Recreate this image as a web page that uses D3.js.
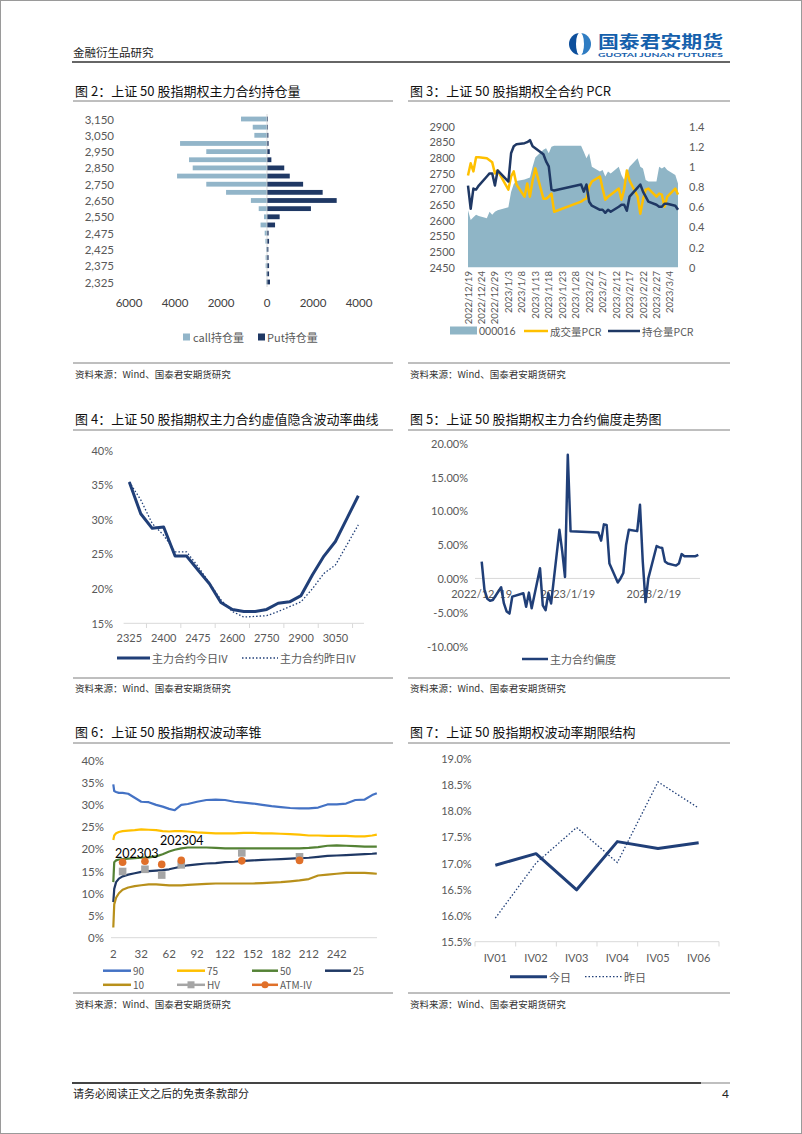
<!DOCTYPE html>
<html><head><meta charset="utf-8">
<script src="https://cdn.jsdelivr.net/npm/d3@7"></script>
<style>
body{margin:0;background:#fff;}
svg{display:block;}
</style></head><body>
<svg id="page" width="802" height="1134"></svg>
<script>
// ---------------- DATA ----------------
// Chart 2: open interest by strike
const oiStrikes = [3150,3100,3050,3000,2950,2900,2850,2800,2750,2700,2650,2600,2550,2500,2475,2450,2425,2400,2375,2350,2325];
const callOI = [1130,620,550,3780,2640,3390,3230,3910,2640,1780,700,360,130,280,100,70,40,60,60,40,40];
const putOI  = [40,40,60,70,120,190,750,990,1570,2420,3030,1910,550,350,70,90,60,70,90,90,130];
const oiTicks = [-6000,-4000,-2000,0,2000,4000];

// Chart 3 / Chart 5: trading days
const tradeDates = ["2022-12-19","2022-12-20","2022-12-21","2022-12-22","2022-12-23","2022-12-26","2022-12-27","2022-12-28","2022-12-29","2022-12-30",
 "2023-01-03","2023-01-04","2023-01-05","2023-01-06","2023-01-09","2023-01-10","2023-01-11","2023-01-12","2023-01-13","2023-01-16","2023-01-17","2023-01-18","2023-01-19","2023-01-20",
 "2023-01-30","2023-01-31","2023-02-01","2023-02-02","2023-02-03","2023-02-06","2023-02-07","2023-02-08","2023-02-09","2023-02-10","2023-02-13","2023-02-14","2023-02-15","2023-02-16","2023-02-17",
 "2023-02-20","2023-02-21","2023-02-22","2023-02-23","2023-02-24","2023-02-27","2023-02-28","2023-03-01","2023-03-02","2023-03-03","2023-03-06","2023-03-07"];
const index000016 = [2632,2601,2609,2617,2613,2606,2627,2617,2627,2632,
 2641,2690,2715,2725,2730,2733,2736,2770,2800,2824,2829,2813,2834,2837,
 2837,2818,2797,2813,2770,2755,2760,2739,2755,2749,2770,2744,2728,2749,2770,
 2797,2770,2765,2728,2723,2723,2770,2765,2770,2760,2744,2717];
const volumePCR = [0.91,1.03,0.95,1.09,1.09,1.08,1.06,1.04,0.93,0.96,
 0.77,0.90,0.95,0.82,0.70,0.83,0.70,0.86,0.98,0.68,0.68,0.70,0.73,0.55,
 0.65,0.67,0.68,0.80,0.85,0.90,0.78,0.67,0.70,0.72,0.78,0.67,0.77,0.96,0.86,
 0.70,0.53,0.67,0.77,0.78,0.70,0.73,0.72,0.60,0.70,0.78,0.72];
const oiPCR = [0.81,0.58,0.78,0.77,0.81,0.90,0.93,0.93,0.81,0.96,
 0.85,1.13,1.20,1.22,1.23,1.24,1.26,1.20,1.18,1.12,1.05,1.00,0.77,0.76,
 0.82,0.75,0.82,0.65,0.61,0.57,0.57,0.54,0.57,0.55,0.60,0.62,0.62,0.56,0.70,
 0.79,0.82,0.75,0.70,0.65,0.62,0.60,0.60,0.63,0.63,0.61,0.57];
const pcrTickDates = ["2022-12-19","2022-12-24","2022-12-29","2023-01-03","2023-01-08","2023-01-13","2023-01-18","2023-01-23","2023-01-28","2023-02-02","2023-02-07","2023-02-12","2023-02-17","2023-02-22","2023-02-27","2023-03-04"];
const pcrLeftTicks = [2450,2500,2550,2600,2650,2700,2750,2800,2850,2900];
const pcrRightTicks = [0,0.2,0.4,0.6,0.8,1.0,1.2,1.4];

// Chart 4: IV smile
const smileStrikes = [2325,2350,2375,2400,2425,2450,2475,2500,2550,2600,2650,2700,2750,2800,2850,2900,2950,3000,3050,3100,3150];
const ivTodaySmile = [35.4,30.8,28.7,28.9,24.7,24.7,22.7,20.7,18.0,17.0,16.7,16.7,17.0,17.9,18.1,19.0,22.0,24.7,26.8,30.1,33.4];
const ivYestSmile  = [35.4,32.8,29.4,27.7,25.3,25.3,23.2,20.8,18.4,16.7,15.9,16.0,16.1,16.7,17.4,18.1,20.0,22.2,23.4,26.3,29.2];
const smileTickLabels = [2325,2400,2475,2600,2750,2900,3050];
const smileYTicks = [15,20,25,30,35,40];

// Chart 5: skew (%)
const skewValues = [2.5,-1.7,-3.0,-3.3,-3.2,-1.3,-3.7,-4.9,-5.2,-2.7,
 -2.2,-4.2,-2.1,-4.4,1.5,-4.0,-4.7,-2.2,-3.7,7.2,4.0,0.2,18.3,7.0,
 6.8,5.6,8.0,7.9,2.2,-0.6,0.0,0.8,5.0,7.2,7.0,10.9,2.5,-3.5,0.0,
 4.8,4.6,4.5,2.5,2.2,1.9,2.2,3.6,3.3,3.3,3.3,3.5];
const skewTicks = [-10,-5,0,5,10,15,20];
const skewDateLabels = ["2022-12-19","2023-01-19","2023-02-19"];

// Chart 6: volatility cone (%)
const coneDays = [2,3,5,8,12,18,25,32,40,48,55,62,68,75,82,92,102,112,122,132,142,152,162,172,182,192,202,212,222,232,242,252,262,272,280,285];
const cone90 = [34.5,33.0,32.8,32.6,32.6,32.4,31.5,30.6,30.5,29.9,29.5,29.0,28.7,29.9,30.1,30.6,31.0,31.1,31.0,30.6,30.4,30.2,29.9,29.6,29.4,29.2,29.1,29.1,29.3,30.0,30.0,30.2,31.0,31.1,32.1,32.5];
const cone75 = [22.0,23.0,23.5,23.8,24.0,24.1,24.2,24.4,24.3,24.2,24.0,23.9,24.0,24.0,23.9,23.7,23.6,23.5,23.5,23.5,23.6,23.6,23.5,23.5,23.4,23.3,23.2,23.0,23.0,22.9,22.9,22.9,22.8,22.8,23.0,23.2];
const cone50 = [12.5,17.0,17.4,17.6,17.7,17.8,17.9,18.0,18.1,18.3,18.8,19.4,19.8,20.1,20.3,20.3,20.3,20.2,20.1,20.1,20.1,20.1,20.1,20.1,20.1,20.1,20.1,20.2,20.4,20.7,20.8,20.7,20.6,20.5,20.5,20.5];
const cone25 = [8.0,11.0,12.5,13.3,13.8,14.2,14.5,14.8,15.0,15.1,15.2,15.4,15.7,16.0,16.3,16.5,16.7,16.8,17.0,17.1,17.3,17.4,17.5,17.6,17.7,17.8,17.9,18.0,18.2,18.4,18.5,18.6,18.7,18.8,18.9,19.0];
const cone10 = [2.3,7.5,9.0,10.0,10.8,11.3,11.6,11.8,12.0,12.0,11.9,11.8,11.8,11.8,11.9,12.0,12.1,12.2,12.2,12.2,12.2,12.2,12.3,12.4,12.5,12.7,12.9,13.2,14.0,14.2,14.4,14.6,14.6,14.6,14.5,14.4];
const contractDays = [12,36,54,75,140,202];
const hvValues = [14.9,15.4,14.1,16.4,19.1,18.2];
const atmIVValues = [17.0,17.2,16.5,17.4,17.3,17.4];
const coneXTicks = [2,32,62,92,122,152,182,212,242];
const coneYTicks = [0,5,10,15,20,25,30,35,40];

// Chart 7: term structure (%)
const termLabels = ["IV01","IV02","IV03","IV04","IV05","IV06"];
const termToday = [16.96,17.18,16.49,17.41,17.28,17.39];
const termYest  = [15.95,17.00,17.68,17.01,18.55,18.05];
const termYTicks = [15.5,16.0,16.5,17.0,17.5,18.0,18.5,19.0];

// ---------------- DRAW ----------------
const svg = d3.select("#page");
const CJK = '"Noto Sans CJK SC", sans-serif';
const NUM = 'Lato, "Noto Sans CJK SC", sans-serif';
const AX = "#595959";
const NAVY = "#203f78";
const parse = d3.timeParse("%Y-%m-%d");
const dates = tradeDates.map(parse);

function txt(g, x, y, s, o = {}) {
  return g.append("text").attr("x", x).attr("y", y).text(s)
    .attr("font-size", o.size || 11).attr("fill", o.fill || AX)
    .attr("font-family", o.family || NUM).attr("text-anchor", o.anchor || "start")
    .attr("font-weight", o.weight || "normal").attr("dominant-baseline", "central");
}
function hline(x1, x2, y, stroke, w) {
  svg.append("line").attr("x1", x1).attr("x2", x2).attr("y1", y).attr("y2", y)
    .attr("stroke", stroke).attr("stroke-width", w);
}

svg.append("rect").attr("x", 0.5).attr("y", 0.5).attr("width", 801).attr("height", 1133)
  .attr("fill", "#fff").attr("stroke", "#9a9a9a");

// header
txt(svg, 73, 52, "金融衍生品研究", {size: 11.5, fill: "#222", family: CJK});
hline(72, 730, 62, "#333", 1.5);
const lg = svg.append("g").attr("transform", "translate(580,44)");
lg.append("path").attr("d", d3.arc()({innerRadius: 0, outerRadius: 11, startAngle: Math.PI, endAngle: 2 * Math.PI})).attr("fill", "#0d4f9c");
lg.append("path").attr("d", d3.arc()({innerRadius: 0, outerRadius: 11, startAngle: 0, endAngle: Math.PI})).attr("fill", "#2f7cc2");
lg.append("ellipse").attr("rx", 4).attr("ry", 11.5).attr("fill", "#fff");
txt(svg, 598, 40.5, "国泰君安期货", {size: 16.5, fill: "#1560ac", family: CJK, weight: "bold"})
  .attr("textLength", 125).attr("lengthAdjust", "spacingAndGlyphs");
svg.append("text").attr("x", 598).attr("y", 57).text("GUOTAI JUNAN FUTURES")
  .attr("font-size", 6).attr("fill", "#1560ac").attr("font-family", NUM).attr("font-weight", "bold")
  .attr("textLength", 125).attr("lengthAdjust", "spacingAndGlyphs");

// titles, separators, sources
const titles = [
  [75, 90, "图 2：上证 50 股指期权主力合约持仓量"],
  [410, 90, "图 3：上证 50 股指期权全合约 PCR"],
  [75, 418, "图 4：上证 50 股指期权主力合约虚值隐含波动率曲线"],
  [410, 418, "图 5：上证 50 股指期权主力合约偏度走势图"],
  [75, 731, "图 6：上证 50 股指期权波动率锥"],
  [410, 731, "图 7：上证 50 股指期权波动率期限结构"]
];
titles.forEach(t => txt(svg, t[0], t[1], t[2], {size: 13, fill: "#111", family: CJK}));
[[101, 73, 393], [101, 408, 730], [430, 73, 393], [430, 408, 730], [743, 73, 393], [743, 408, 730]]
  .forEach(l => hline(l[1], l[2], l[0], "#7f7f7f", 1));
[[363, 374], [678, 688], [993, 1004]].forEach(p => {
  hline(73, 393, p[0], "#7f7f7f", 1); hline(408, 730, p[0], "#7f7f7f", 1);
  txt(svg, 75, p[1], "资料来源：Wind、国泰君安期货研究", {size: 9.5, fill: "#333", family: CJK});
  txt(svg, 410, p[1], "资料来源：Wind、国泰君安期货研究", {size: 9.5, fill: "#333", family: CJK});
});
// footer
hline(72, 701, 1083, "#444", 2);
hline(701, 730, 1083, "#aaa", 1.5);
txt(svg, 73, 1093, "请务必阅读正文之后的免责条款部分", {size: 11, fill: "#222", family: CJK});
txt(svg, 729, 1093, "4", {size: 12, fill: "#222", anchor: "end"});

function legendLine(g, x1, x2, y, color, w, dash, label, marker, fs) {
  g.append("line").attr("x1", x1).attr("x2", x2).attr("y1", y).attr("y2", y)
    .attr("stroke", color).attr("stroke-width", w).attr("stroke-dasharray", dash || null);
  if (marker === "square") g.append("rect").attr("x", (x1 + x2) / 2 - 3.5).attr("y", y - 3.5).attr("width", 7).attr("height", 7).attr("fill", color);
  if (marker === "circle") g.append("circle").attr("cx", (x1 + x2) / 2).attr("cy", y).attr("r", 3.5).attr("fill", color);
  txt(g, x2 + 2, y, label, {size: fs || 11, family: CJK});
}

// ---------- Chart 2 ----------
{
  const g = svg.append("g");
  const x = d3.scaleLinear().domain([-6000, 4000]).range([129, 359]);
  const y = d3.scalePoint().domain(oiStrikes).range([119, 282]);
  const bh = 4.8;
  g.selectAll(".call").data(oiStrikes).join("rect")
    .attr("x", (d, i) => x(-callOI[i])).attr("width", (d, i) => x(0) - x(-callOI[i]))
    .attr("y", d => y(d) - bh / 2).attr("height", bh).attr("fill", "#92b5c9");
  g.selectAll(".put").data(oiStrikes).join("rect")
    .attr("x", x(0)).attr("width", (d, i) => x(putOI[i]) - x(0))
    .attr("y", d => y(d) - bh / 2).attr("height", bh).attr("fill", "#1f3864");
  g.append("line").attr("x1", x(0)).attr("x2", x(0)).attr("y1", 114).attr("y2", 287).attr("stroke", "#d0d0d0").attr("stroke-width", 0.8);
  oiStrikes.forEach((s, i) => { if (i % 2 === 0) txt(g, 114, y(s), d3.format(",")(s), {anchor: "end", size: 11.5}); });
  oiTicks.forEach(v => txt(g, x(v), 302, String(Math.abs(v)), {anchor: "middle", fill: "#404040", size: 11.5}));
  g.append("rect").attr("x", 183).attr("y", 333.5).attr("width", 7).attr("height", 7).attr("fill", "#92b5c9");
  txt(g, 193, 337, "call持仓量", {family: CJK});
  g.append("rect").attr("x", 258).attr("y", 333.5).attr("width", 7).attr("height", 7).attr("fill", "#1f3864");
  txt(g, 267, 337, "Put持仓量", {family: CJK});
}

// ---------- Chart 3 ----------
{
  const g = svg.append("g");
  const x = d3.scaleTime().domain([parse("2022-12-19"), parse("2023-03-07")]).range([468, 678]);
  const yL = d3.scaleLinear().domain([2450, 2900]).range([267.3, 126]);
  const yR = d3.scaleLinear().domain([0, 1.4]).range([267.3, 126]);
  g.append("path").datum(dates).attr("fill", "#8fb5c6")
    .attr("d", d3.area().x(d => x(d)).y0(yL(2450)).y1((d, i) => yL(index000016[i])));
  g.append("path").datum(dates).attr("fill", "none").attr("stroke", "#ffc000").attr("stroke-width", 2.5)
    .attr("stroke-linejoin", "round").attr("d", d3.line().x(d => x(d)).y((d, i) => yR(volumePCR[i])));
  g.append("path").datum(dates).attr("fill", "none").attr("stroke", "#1f3864").attr("stroke-width", 2.5)
    .attr("stroke-linejoin", "round").attr("d", d3.line().x(d => x(d)).y((d, i) => yR(oiPCR[i])));
  pcrLeftTicks.forEach(v => txt(g, 455, yL(v), String(v), {anchor: "end"}));
  pcrRightTicks.forEach(v => txt(g, 689, yR(v), d3.format("~g")(v), {}));
  pcrTickDates.forEach(s => {
    const d = parse(s);
    g.append("text").attr("transform", `translate(${x(d)},271) rotate(-90)`).text(d3.timeFormat("%Y/%-m/%-d")(d))
      .attr("font-size", 9.6).attr("fill", AX).attr("font-family", NUM).attr("text-anchor", "end").attr("dominant-baseline", "central");
  });
  g.append("rect").attr("x", 450).attr("y", 326.5).attr("width", 27).attr("height", 8).attr("fill", "#8fb5c6");
  txt(g, 479, 331, "000016", {size: 10.5});
  legendLine(g, 524, 548, 331, "#ffc000", 2.5, null, "成交量PCR", null, 10.5);
  legendLine(g, 608, 640, 331, "#1f3864", 2.5, null, "持仓量PCR", null, 10.5);
}

// ---------- Chart 4 ----------
{
  const g = svg.append("g");
  const x = d3.scalePoint().domain(smileStrikes).range([129.3, 358.3]);
  const y = d3.scaleLinear().domain([15, 40]).range([623.3, 450]);
  g.append("line").attr("x1", 123.6).attr("x2", 364).attr("y1", 623.3).attr("y2", 623.3).attr("stroke", "#d9d9d9");
  smileStrikes.forEach((s, i) => {
    if (i % 3 === 1 && i + 1 < smileStrikes.length) {
      const tx = (x(s) + x(smileStrikes[i + 1])) / 2;
      g.append("line").attr("x1", tx).attr("x2", tx).attr("y1", 623.3).attr("y2", 628).attr("stroke", "#d9d9d9");
    }
  });
  smileYTicks.forEach(v => txt(g, 113, y(v), v + "%", {anchor: "end"}));
  smileTickLabels.forEach(v => txt(g, x(v), 637, String(v), {anchor: "middle"}));
  g.append("path").datum(smileStrikes).attr("fill", "none").attr("stroke", NAVY).attr("stroke-width", 1.3)
    .attr("stroke-dasharray", "1.5 2").attr("d", d3.line().x(d => x(d)).y((d, i) => y(ivYestSmile[i])));
  g.append("path").datum(smileStrikes).attr("fill", "none").attr("stroke", NAVY).attr("stroke-width", 3)
    .attr("stroke-linejoin", "round").attr("d", d3.line().x(d => x(d)).y((d, i) => y(ivTodaySmile[i])));
  legendLine(g, 117, 150, 658, NAVY, 3, null, "主力合约今日IV");
  legendLine(g, 242, 278, 658, NAVY, 1.3, "1.5 2", "主力合约昨日IV");
}

// ---------- Chart 5 ----------
{
  const g = svg.append("g");
  const x = d3.scaleTime().domain([parse("2022-12-19"), parse("2023-03-07")]).range([481.7, 698.3]);
  const y = d3.scaleLinear().domain([-10, 20]).range([646, 443.3]);
  g.append("line").attr("x1", 475).attr("x2", 700).attr("y1", y(0)).attr("y2", y(0)).attr("stroke", "#d9d9d9");
  skewTicks.forEach(v => txt(g, 468, y(v), v.toFixed(2) + "%", {anchor: "end"}));
  skewDateLabels.forEach(s => txt(g, x(parse(s)), 593, d3.timeFormat("%Y/%-m/%-d")(parse(s)), {anchor: "middle"}));
  g.append("path").datum(dates).attr("fill", "none").attr("stroke", NAVY).attr("stroke-width", 2.5)
    .attr("stroke-linejoin", "round").attr("d", d3.line().x(d => x(d)).y((d, i) => y(skewValues[i])));
  legendLine(g, 522, 548, 659, NAVY, 2.5, null, "主力合约偏度");
}

// ---------- Chart 6 ----------
{
  const g = svg.append("g");
  const x = d3.scaleLinear().domain([2, 285]).range([113.3, 376.8]);
  const y = d3.scaleLinear().domain([0, 40]).range([937.7, 760]);
  g.append("line").attr("x1", 111).attr("x2", 377).attr("y1", 937.7).attr("y2", 937.7).attr("stroke", "#d9d9d9");
  coneYTicks.forEach(v => txt(g, 104, y(v), v + "%", {anchor: "end", size: 11.5}));
  coneXTicks.forEach(v => txt(g, x(v), 953, String(v), {anchor: "middle", size: 11.5}));
  const series = [[cone90, "#4472c4"], [cone75, "#ffc000"], [cone50, "#548235"], [cone25, "#1f3864"], [cone10, "#b8901b"]];
  series.forEach(s => g.append("path").datum(coneDays).attr("fill", "none").attr("stroke", s[1]).attr("stroke-width", 2.2)
    .attr("stroke-linejoin", "round").attr("d", d3.line().x(d => x(d)).y((d, i) => y(s[0][i]))));
  contractDays.forEach((d, i) => g.append("rect").attr("x", x(d) - 3.8).attr("y", y(hvValues[i]) - 3.8)
    .attr("width", 7.6).attr("height", 7.6).attr("fill", "#a5a5a5"));
  contractDays.forEach((d, i) => g.append("circle").attr("cx", x(d)).attr("cy", y(atmIVValues[i])).attr("r", 3.8).attr("fill", "#e0702a"));
  txt(g, 115, 853, "202303", {size: 12.5, fill: "#000"});
  txt(g, 160, 840, "202304", {size: 12.5, fill: "#000"});
  const fs = 10;
  legendLine(g, 103, 131, 970.7, "#4472c4", 2.5, null, "90", null, fs);
  legendLine(g, 177, 205, 970.7, "#ffc000", 2.5, null, "75", null, fs);
  legendLine(g, 252, 278, 970.7, "#548235", 2.5, null, "50", null, fs);
  legendLine(g, 325, 351, 970.7, "#1f3864", 2.5, null, "25", null, fs);
  legendLine(g, 103, 131, 984.8, "#b8901b", 2.5, null, "10", null, fs);
  legendLine(g, 177, 205, 984.8, "#a5a5a5", 2.5, null, "HV", "square", fs);
  legendLine(g, 252, 278, 984.8, "#e0702a", 2.5, null, "ATM-IV", "circle", fs);
}

// ---------- Chart 7 ----------
{
  const g = svg.append("g");
  const x = d3.scaleBand().domain(termLabels).range([475, 719]);
  const y = d3.scaleLinear().domain([15.5, 19.0]).range([941.7, 758.3]);
  g.append("line").attr("x1", 475).attr("x2", 719).attr("y1", 941.7).attr("y2", 941.7).attr("stroke", "#d9d9d9");
  termLabels.concat([null]).forEach((t, i) => {
    const tx = 475 + i * x.step();
    g.append("line").attr("x1", tx).attr("x2", tx).attr("y1", 941.7).attr("y2", 946.5).attr("stroke", "#d9d9d9");
  });
  termYTicks.forEach(v => txt(g, 471.7, y(v), v.toFixed(1) + "%", {anchor: "end"}));
  termLabels.forEach(t => txt(g, x(t) + x.bandwidth() / 2, 957, t, {anchor: "middle"}));
  const cx = d => x(d) + x.bandwidth() / 2;
  g.append("path").datum(termLabels).attr("fill", "none").attr("stroke", NAVY).attr("stroke-width", 1.3)
    .attr("stroke-dasharray", "1.5 2").attr("d", d3.line().x(cx).y((d, i) => y(termYest[i])));
  g.append("path").datum(termLabels).attr("fill", "none").attr("stroke", NAVY).attr("stroke-width", 3)
    .attr("stroke-linejoin", "round").attr("d", d3.line().x(cx).y((d, i) => y(termToday[i])));
  legendLine(g, 510, 547, 976.7, NAVY, 3, null, "今日");
  legendLine(g, 585, 622, 976.7, NAVY, 1.3, "1.5 2", "昨日");
}
</script></body></html>
